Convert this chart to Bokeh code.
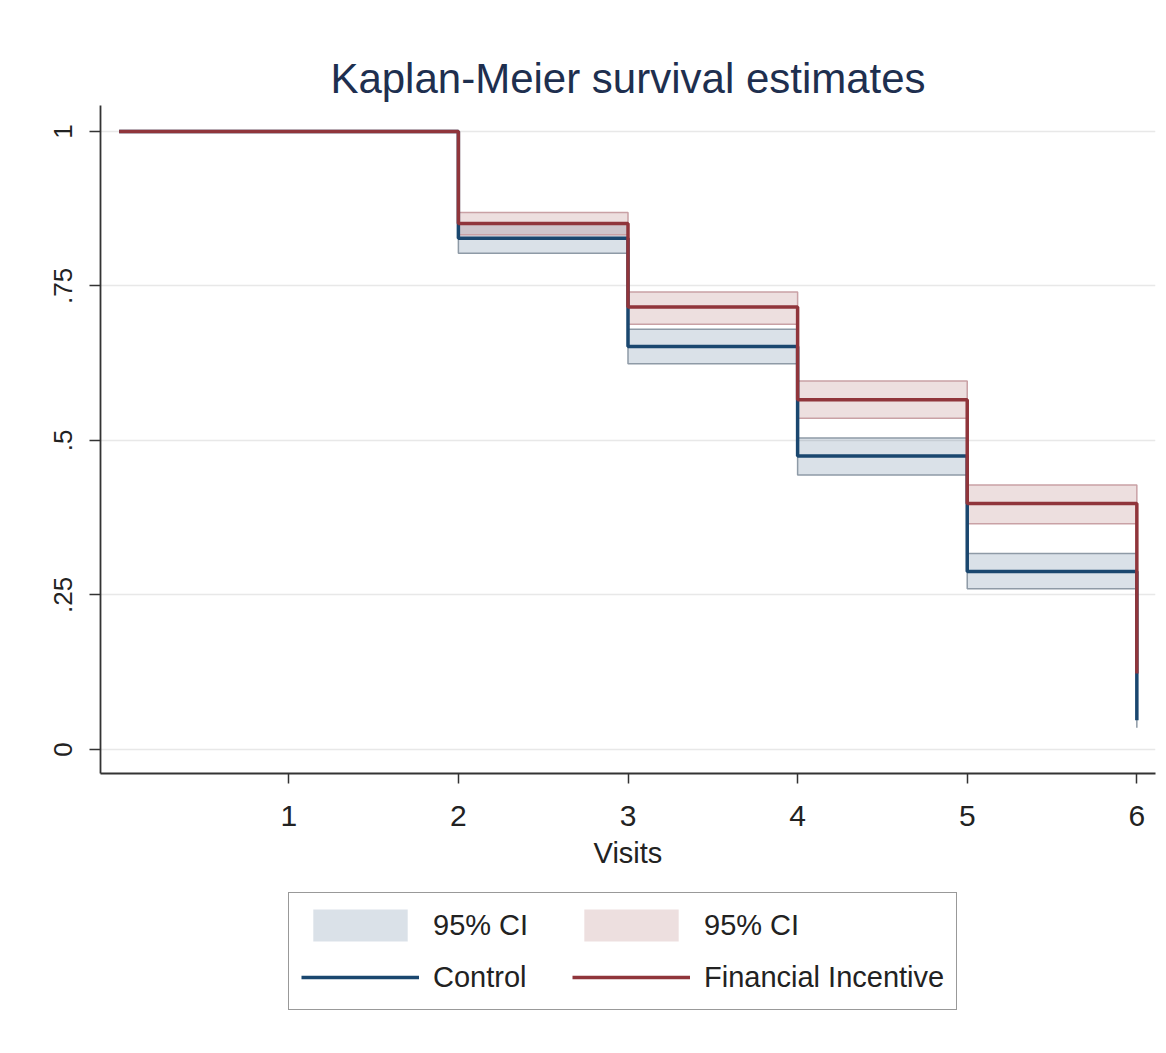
from bokeh.plotting import figure
from bokeh.models import Legend, LegendItem, FixedTicker
from bokeh.layouts import column
from bokeh.embed import file_html
from bokeh.resources import INLINE

# ---- data ----
times = [0, 2, 3, 4, 5, 6]
control_surv = [1.0, 0.827, 0.652, 0.475, 0.288, 0.047]
fi_surv = [1.0, 0.851, 0.716, 0.566, 0.398, 0.123]

ci_times = [2, 3, 4, 5, 6]
control_lo = [0.803, 0.624, 0.444, 0.260, 0.035]
control_hi = [0.850, 0.680, 0.504, 0.317, 0.075]
fi_lo = [0.833, 0.688, 0.536, 0.365, 0.095]
fi_hi = [0.869, 0.740, 0.596, 0.428, 0.155]

x_ticks = [1, 2, 3, 4, 5, 6]
y_ticks = [0, 0.25, 0.5, 0.75, 1]
y_tick_labels = ["0", ".25", ".5", ".75", "1"]

title_text = "Kaplan-Meier survival estimates"
x_label = "Visits"
legend_labels = ["95% CI", "95% CI", "Control", "Financial Incentive"]

NAVY = "#1a476f"
MAROON = "#90353b"
FONT = "Liberation Sans"
BAND_ALPHA = 0.16


def step_band(t, lo, hi):
    """Polygon outline of a right-continuous step band."""
    xs, ys = [], []
    n = len(t)
    for i in range(n):
        xs.append(t[i]); ys.append(hi[i])
        if i + 1 < n:
            xs.append(t[i + 1]); ys.append(hi[i])
    for i in range(n - 1, -1, -1):
        if i + 1 < n:
            xs.append(t[i + 1]); ys.append(lo[i])
        xs.append(t[i]); ys.append(lo[i])
    return xs, ys


def add_series(fig, visible=True):
    r = {}
    r["ctrl_band"] = fig.varea_step(x=ci_times, y1=control_lo, y2=control_hi, step_mode="after",
                                    fill_color=NAVY, fill_alpha=BAND_ALPHA, visible=visible)
    r["fi_band"] = fig.varea_step(x=ci_times, y1=fi_lo, y2=fi_hi, step_mode="after",
                                  fill_color=MAROON, fill_alpha=BAND_ALPHA, visible=visible)
    if visible:
        cx, cy = step_band(ci_times, control_lo, control_hi)
        fx, fy = step_band(ci_times, fi_lo, fi_hi)
        fig.patch(cx, cy, fill_alpha=0, line_color="#8e9aa6", line_width=1.5)
        fig.patch(fx, fy, fill_alpha=0, line_color="#c9a1a5", line_width=1.5)
    r["ctrl_line"] = fig.step(times, control_surv, mode="after", line_color=NAVY,
                              line_width=3.5, visible=visible)
    r["fi_line"] = fig.step(times, fi_surv, mode="after", line_color=MAROON,
                            line_width=3.5, visible=visible)
    return r


# ---------------- main chart ----------------
W, H1 = 1158, 885
p = figure(width=W, height=H1, output_backend="svg", toolbar_location=None,
           x_range=(-0.11, 6.11), y_range=(-0.039, 1.042),
           min_border_left=100, min_border_right=3, min_border_top=105,
           min_border_bottom=H1 - 773, title=title_text)
p.background_fill_color = "white"
p.border_fill_color = "white"
p.outline_line_color = None

p.title.text_font = FONT
p.title.text_font_size = "42px"
p.title.text_font_style = "normal"
p.title.text_color = "#1e2f4f"
p.title.align = "center"
p.title.standoff = 7

add_series(p, visible=True)

for ax in (p.xaxis[0], p.yaxis[0]):
    ax.axis_line_color = "#333333"
    ax.axis_line_width = 1.8
    ax.major_tick_line_color = "#333333"
    ax.major_tick_line_width = 1.5
    ax.minor_tick_line_color = None
    ax.major_tick_in = 0

p.xaxis.ticker = FixedTicker(ticks=x_ticks)
p.xaxis.major_tick_out = 10
p.xaxis.major_label_text_font = FONT
p.xaxis.major_label_text_font_size = "30px"
p.xaxis.major_label_text_color = "#222222"
p.xaxis.major_label_standoff = 22
p.xaxis.axis_label = x_label
p.xaxis.axis_label_text_font = FONT
p.xaxis.axis_label_text_font_size = "29px"
p.xaxis.axis_label_text_font_style = "normal"
p.xaxis.axis_label_text_color = "#222222"
p.xaxis.axis_label_standoff = 8

p.yaxis.ticker = FixedTicker(ticks=y_ticks)
p.yaxis.major_label_overrides = {t: s for t, s in zip(y_ticks, y_tick_labels)}
p.yaxis.major_tick_out = 11
p.yaxis.major_label_orientation = "vertical"
p.yaxis.major_label_text_font = FONT
p.yaxis.major_label_text_font_size = "26px"
p.yaxis.major_label_text_color = "#222222"
p.yaxis.major_label_standoff = 17

p.xgrid.grid_line_color = None
p.ygrid.grid_line_color = "#e8e8e8"
p.ygrid.grid_line_width = 1.5

# ---------------- legend strip ----------------
H2 = 1040 - H1
q = figure(width=W, height=H2, output_backend="svg", toolbar_location=None,
           x_axis_location=None, y_axis_location=None,
           min_border=0, min_border_left=0, min_border_right=0,
           min_border_top=0, min_border_bottom=0)
q.outline_line_color = None
q.grid.visible = False
q.background_fill_color = "white"
q.border_fill_color = "white"
lr = add_series(q, visible=False)

legend = Legend(items=[
    LegendItem(label=legend_labels[0], renderers=[lr["ctrl_band"]]),
    LegendItem(label=legend_labels[2], renderers=[lr["ctrl_line"]]),
    LegendItem(label=legend_labels[1], renderers=[lr["fi_band"]]),
    LegendItem(label=legend_labels[3], renderers=[lr["fi_line"]]),
], location=(188, 30), ncols=2)
legend.glyph_width = 118
legend.glyph_height = 40
legend.label_standoff = 14
legend.label_width = 127
legend.label_text_font = FONT
legend.label_text_font_size = "29px"
legend.label_text_color = "#222222"
legend.padding = 12
legend.spacing = 12
legend.margin = 0
legend.border_line_color = "#333333"
legend.border_line_width = 1.8
legend.background_fill_color = "white"
legend.background_fill_alpha = 1.0
q.add_layout(legend, "center")

layout = column(p, q, spacing=0)
open("out.html", "w").write(file_html(layout, INLINE))
